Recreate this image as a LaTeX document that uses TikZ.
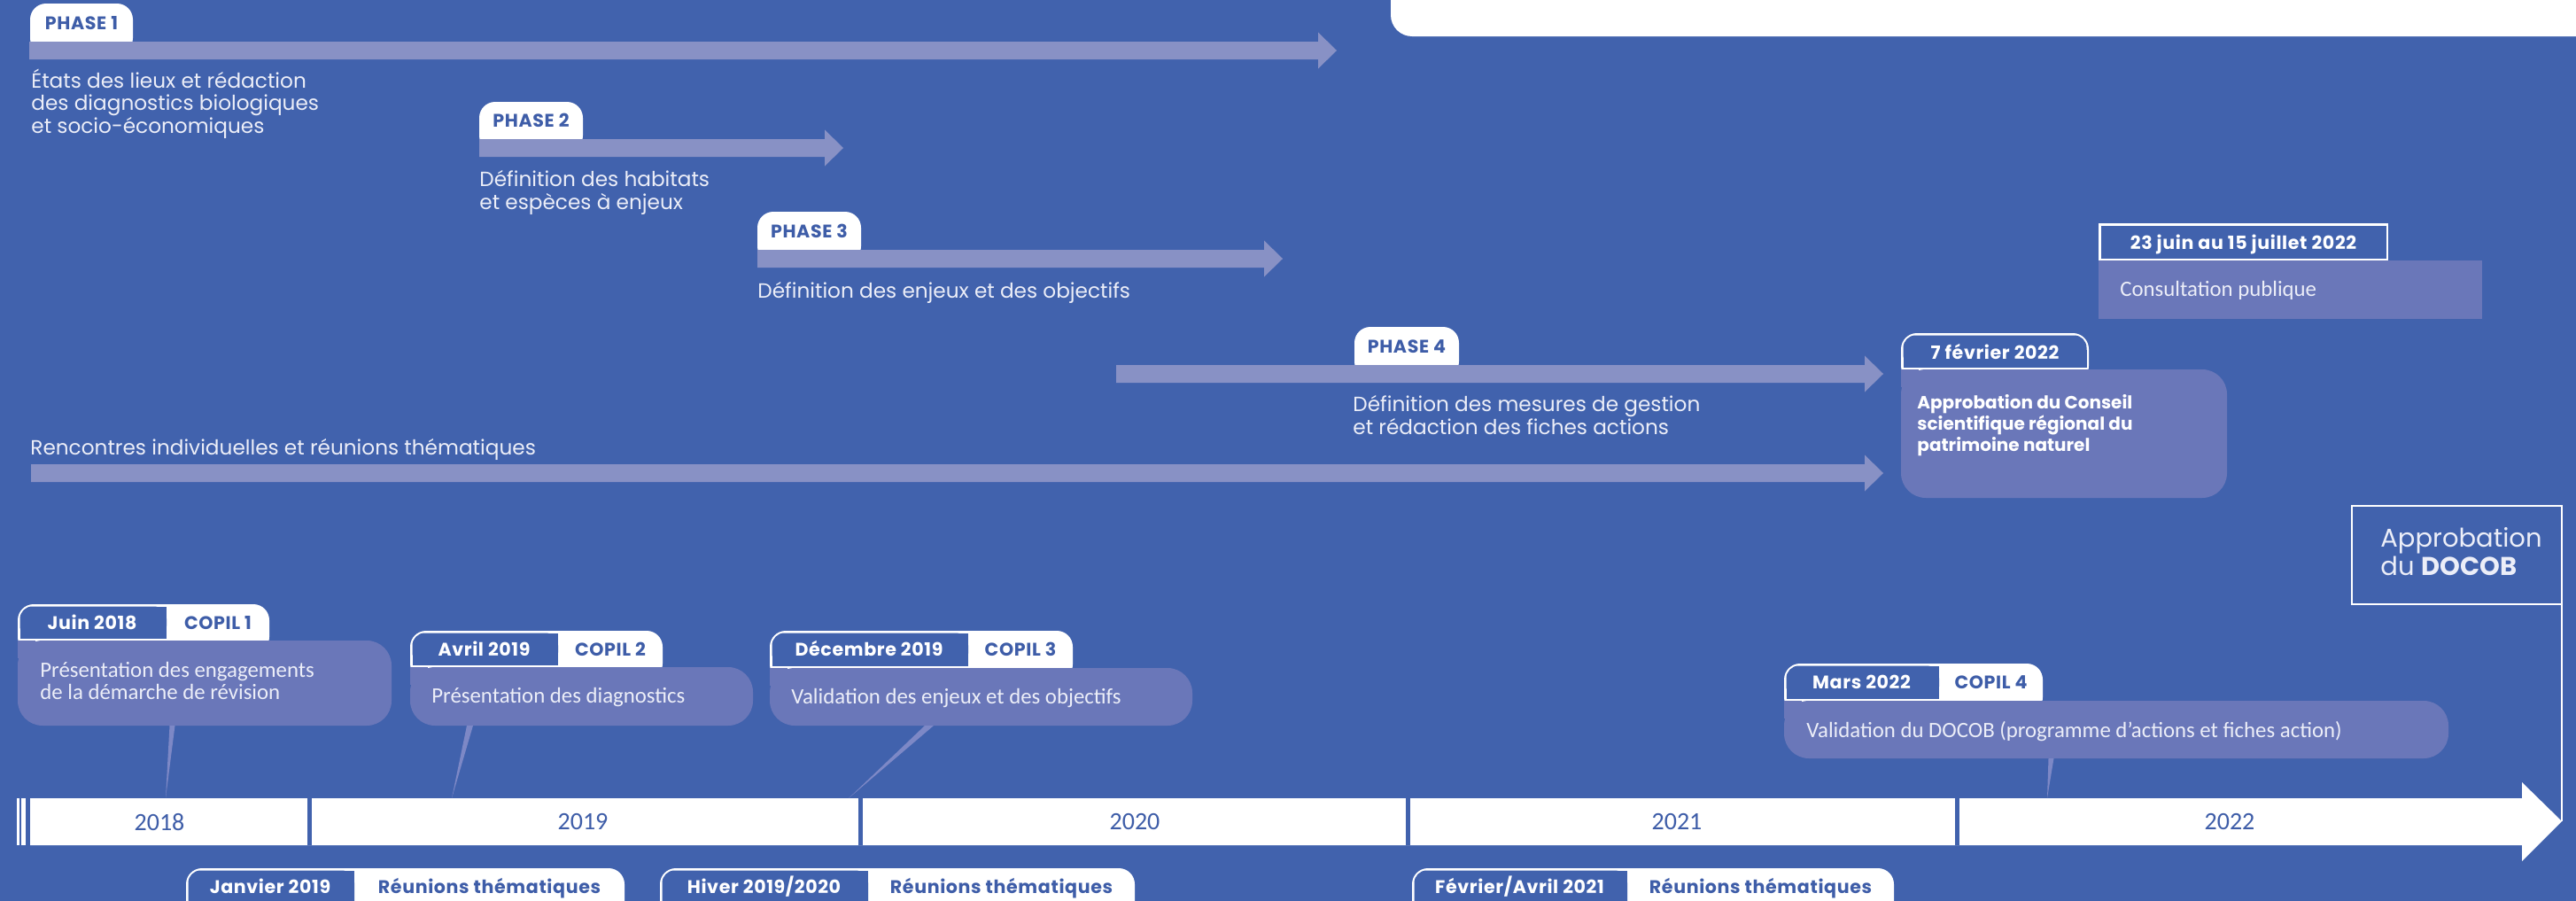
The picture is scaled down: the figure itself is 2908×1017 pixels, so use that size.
\documentclass[tikz,border=0pt]{standalone}
\usepackage{fontspec}
\setmainfont{Poppins}
\newfontfamily\cond{Carlito}
\newfontfamily\popw{Poppins}[LetterSpace=3]
\usetikzlibrary{calc}
\definecolor{bg}{RGB}{65,98,173}
\definecolor{barc}{RGB}{136,145,197}
\definecolor{boxc}{RGB}{106,119,185}
\definecolor{txt}{RGB}{236,238,248}
\definecolor{tabtxt}{RGB}{62,93,168}
\definecolor{conn}{RGB}{125,136,198}
\newcommand\phasebar[3]{% x1, ytop, xtip
  \fill[barc] (#1,#2) -- (#3-21,#2) -- (#3-21,#2-10.5) -- (#3,#2+10) -- (#3-21,#2+30.5) -- (#3-21,#2+20) -- (#1,#2+20) -- cycle;}
\newcommand\whitetab[4]{% x1,y1,x2,y2 (top rounded)
  \fill[white, rounded corners=9] (#1,#2) rectangle (#3,#4+14);}
\newcommand\datecell[4]{% x1,y1,xd,y2
  \fill[bg, rounded corners=7] (#1+2.5,#2+2.5) rectangle (#3,#4-2.5);
  \fill[bg] (#1+12,#2+2.5) rectangle (#3,#4-2.5);
  \fill[bg] (#1+2.5,#2+12) rectangle (#3,#4-2.5);}
\newcommand\lavbox[4]{% x1,y1,x2,y2 (top-left sharp)
  \fill[boxc, rounded corners=14] (#1,#2) rectangle (#3,#4);
  \fill[boxc] (#1,#2) rectangle (#1+20,#2+20);}
\begin{document}
\begin{tikzpicture}[x=0.5pt,y=-0.5pt,
  phasetxt/.style={font=\fontsize{11.6}{12.75}\selectfont, text=txt, inner sep=0, anchor=base west, align=left},
  tablbl/.style={font=\popw\fontsize{10.3}{12}\selectfont\bfseries, inner sep=0, anchor=base},
  tabwhite/.style={tablbl, text=white},
  tabblue/.style={tablbl, text=tabtxt},
  boxtxt/.style={font=\cond\fontsize{12.4}{12.5}\selectfont, text=txt, inner sep=0, anchor=base west, align=left},
  yeartxt/.style={font=\cond\fontsize{14}{14}\selectfont, text=tabtxt, inner sep=0},
]
\useasboundingbox (0,0) rectangle (2908,1017);
\fill[bg] (0,0) rectangle (2908,1017);
\clip (0,0) rectangle (2908,1017);

% top right white panel
\fill[white, rounded corners=12] (1570,-30) rectangle (2950,41);

% phase tabs and bars
\whitetab{34}{4}{150}{47}
\phasebar{33}{47}{1509}
\node[tabblue] (ph1) at (92,33.5) {PHASE 1};
\whitetab{541}{115}{658}{157}
\phasebar{541}{157}{952}
\node[tabblue] (ph2) at (599.5,143.5) {PHASE 2};
\whitetab{855}{239}{972}{282}
\phasebar{855}{282}{1448}
\node[tabblue] (ph3) at (913.5,268.5) {PHASE 3};
\whitetab{1529}{369}{1647}{412}
\phasebar{1260}{412}{2126}
\node[tabblue] (ph4) at (1588,398.5) {PHASE 4};
\phasebar{35}{524}{2126}

% phase texts (base = last line)
\node[phasetxt] (p1t) at (35,150) {États des lieux et rédaction\\des diagnostics biologiques\\et socio-économiques};
\node[phasetxt] (p2t) at (541,236) {Définition des habitats\\et espèces à enjeux};
\node[phasetxt] (p3t) at (855,336) {Définition des enjeux et des objectifs};
\node[phasetxt] (p4t) at (1527,490) {Définition des mesures de gestion\\et rédaction des fiches actions};
\node[phasetxt] (rt) at (34,513) {Rencontres individuelles et réunions thématiques};

% consultation publique
\fill[white] (2369,252) rectangle (2696,294);
\fill[bg] (2371.5,254.5) rectangle (2693.5,291.5);
\node[tabwhite] (d23) at (2532.5,281) {23 juin au 15 juillet 2022};
\fill[boxc] (2369,294) rectangle (2802,360);
\node[boxtxt] (cp) at (2393,334) {Consultation publique};

% 7 fevrier
\whitetab{2146}{376}{2358}{417}
\fill[bg, rounded corners=7] (2148.5,378.5) rectangle (2355.5,414.5);
\fill[bg] (2148.5,395) rectangle (2355.5,414.5);
\node[tabwhite] (d7) at (2252,405) {7 février 2022};
\lavbox{2146}{417}{2514}{562}
\node[font=\fontsize{10}{12}\selectfont\bfseries, text=white, inner sep=0, anchor=base west, align=left] (csrpn) at (2164,509) {Approbation du Conseil\\scientifique régional du\\patrimoine naturel};

% COPIL 1
\whitetab{20}{682}{304}{723}
\datecell{20}{682}{188}{723}
\lavbox{20}{723}{442}{819}
\node[tabwhite] (t1d) at (104,710) {Juin 2018};
\node[tabblue] (t1c) at (246,710) {COPIL 1};
\node[boxtxt] (b1) at (45,789) {Présentation des engagements\\de la démarche de révision};

% COPIL 2
\whitetab{463}{712}{748}{753}
\datecell{463}{712}{630}{753}
\lavbox{463}{753}{850}{819}
\node[tabwhite] (t2d) at (546.5,740) {Avril 2019};
\node[tabblue] (t2c) at (689,740) {COPIL 2};
\node[boxtxt] (b2) at (487,793) {Présentation des diagnostics};

% COPIL 3
\whitetab{869}{712}{1211}{754}
\datecell{869}{712}{1093}{754}
\lavbox{869}{754}{1346}{819}
\node[tabwhite] (t3d) at (981,740) {Décembre 2019};
\node[tabblue] (t3c) at (1152,740) {COPIL 3};
\node[boxtxt] (b3) at (893,794) {Validation des enjeux et des objectifs};

% COPIL 4
\whitetab{2014}{749}{2306}{791}
\datecell{2014}{749}{2189}{791}
\lavbox{2014}{791}{2764}{856}
\node[tabwhite] (t4d) at (2101.5,777) {Mars 2022};
\node[tabblue] (t4c) at (2247.5,777) {COPIL 4};
\node[boxtxt] (b4) at (2039,832) {Validation du DOCOB (programme d’actions et fiches action)};

% Approbation du DOCOB
\coordinate (dtip) at (2892,927);
\coordinate (dtr) at (2892,571);
\coordinate (dtl) at (2655,571);
\coordinate (dbl) at (2655,682);
\coordinate (dbr) at (2892,682);
\draw[white, line width=1.2] (dtip) -- (dtr) -- (dtl) -- (dbl) -- (dbr);
\node[font=\fontsize{14.5}{16}\selectfont, text=txt, inner sep=0, anchor=base west, align=left] (docob) at (2687,649) {Approbation\\du \textbf{DOCOB}};

% timeline
\fill[white] (34,901) -- (2847,901) -- (2847,883) -- (2892,927) -- (2847,972) -- (2847,954) -- (34,954) -- cycle;
\fill[white] (19,901) rectangle (22,954);
\fill[white] (24,901) rectangle (29,954);
\fill[bg] (347,901) rectangle (352,954);
\fill[bg] (968.5,901) rectangle (973.5,954);
\fill[bg] (1587,901) rectangle (1592,954);
\fill[bg] (2207,901) rectangle (2212,954);
\node[yeartxt] (y18) at (180,928) {2018};
\node[yeartxt] (y19) at (658,928) {2019};
\node[yeartxt] (y20) at (1281,928) {2020};
\node[yeartxt] (y21) at (1893,928) {2021};
\node[yeartxt] (y22) at (2517,928) {2022};

% connectors
\coordinate (k1t) at (194.5,819); \coordinate (k1b) at (187,901);
\coordinate (k2t) at (530.5,819); \coordinate (k2b) at (510,901);
\coordinate (k3t) at (1049,819); \coordinate (k3b) at (958,901);
\coordinate (k4t) at (2315.5,856); \coordinate (k4b) at (2311,901);
\fill[conn] ($(k1t)+(-3,0)$) -- ($(k1t)+(3,0)$) -- (k1b) -- cycle;
\fill[conn] ($(k2t)+(-3.5,0)$) -- ($(k2t)+(3.5,0)$) -- (k2b) -- cycle;
\fill[conn] ($(k3t)+(-5,0)$) -- ($(k3t)+(5,0)$) -- (k3b) -- cycle;
\fill[conn] ($(k4t)+(-3,0)$) -- ($(k4t)+(3,0)$) -- (k4b) -- cycle;

% bottom tabs
\whitetab{210}{980}{705}{1040}
\datecell{210}{980}{400}{1045}
\node[tabwhite] (r1d) at (305,1008) {Janvier 2019};
\node[tabblue] (r1c) at (552.5,1008) {Réunions thématiques};
\whitetab{745}{980}{1281}{1040}
\datecell{745}{980}{980}{1045}
\node[tabwhite] (r2d) at (862.5,1008) {Hiver 2019/2020};
\node[tabblue] (r2c) at (1130.5,1008) {Réunions thématiques};
\whitetab{1594}{980}{2138}{1040}
\datecell{1594}{980}{1837}{1045}
\node[tabwhite] (r3d) at (1715.5,1008) {Février/Avril 2021};
\node[tabblue] (r3c) at (1987.5,1008) {Réunions thématiques};
\end{tikzpicture}
\end{document}
